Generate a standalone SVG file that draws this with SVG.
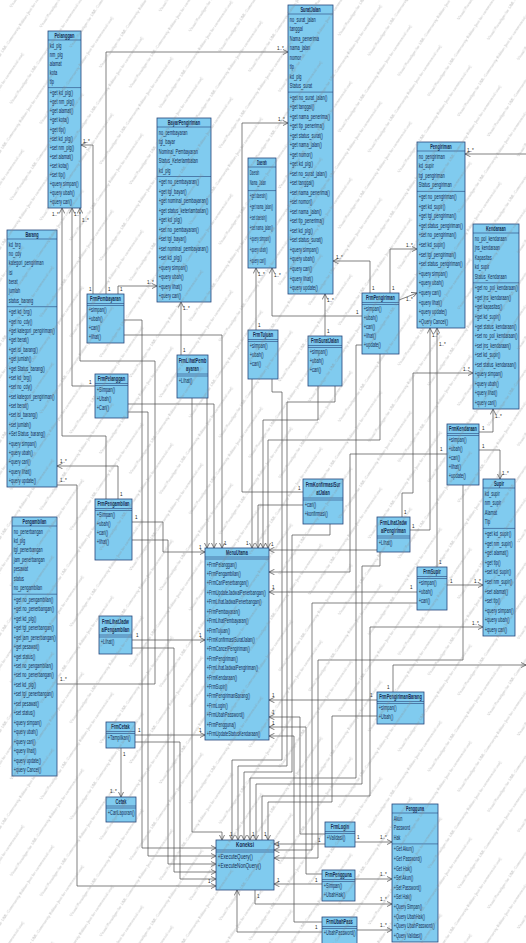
<svg xmlns="http://www.w3.org/2000/svg" width="526" height="943" viewBox="0 0 526 943">
<defs>
<style>
.b{fill:#80cbef;stroke:#27457a;stroke-width:.8}
.s{fill:none;stroke:#27457a;stroke-width:.6}
text{font-family:"Liberation Sans",Arial,sans-serif;font-size:6.4px;fill:#13294f}
.h{font-weight:bold;text-anchor:middle}
.c path{fill:none;stroke:#4a4a4a;stroke-width:.7;marker-end:url(#ar)}
.l text{font-size:4.6px;fill:#222}
.w{font-size:4.2px;fill:#8a8a8a}
</style>
<marker id="ar" viewBox="0 0 10 10" refX="10" refY="5" markerWidth="5.5" markerHeight="5.5" markerUnits="userSpaceOnUse" orient="auto"><path d="M0 0L10 5L0 10" fill="none" stroke="#4a4a4a" stroke-width="1.3"/></marker>
<pattern id="wm" patternUnits="userSpaceOnUse" width="160" height="36" patternTransform="rotate(-56)">
<text class="w" x="0" y="14">Visual Paradigm for UML Community Edition [not for commercial use]</text>
<text class="w" x="-80" y="32">Visual Paradigm for UML Community Edition [not for commercial use]</text>
<text class="w" x="80" y="32">Visual Paradigm for UML Community Edition [not for commercial use]</text>
</pattern>
</defs>
<rect width="526" height="943" fill="#ffffff"/>

<g id="connectors" class="c">
<path d="M106 294V52H288"/>
<path d="M93 294V145H81"/>
<path d="M118 294V286H157"/>
<path d="M181 355V302"/>
<path d="M256 330V268"/>
<path d="M303 492H242V123H288"/>
<path d="M325 336V294"/>
<path d="M370 293V261H333"/>
<path d="M390 293V249H417"/>
<path d="M399 300L417 293"/>
<path d="M362 316H272V268"/>
<path d="M526 154H465"/>
<path d="M402 517V493H413V373H473"/>
<path d="M479 432H493V409"/>
<path d="M479 450H500V479"/>
<path d="M447 585H483"/>
<path d="M262 840V796H370V627H483"/>
<path d="M410 530H430V328"/>
<path d="M437 567V328"/>
<path d="M95 386H72V208"/>
<path d="M106 499V436H62V208"/>
<path d="M57 684H155V361H80V208"/>
<path d="M118 499V466H57"/>
<path d="M121 748V797"/>
<path d="M57 485H77V886H216"/>
<path d="M355 842H392"/>
<path d="M355 879H392"/>
<path d="M357 930H392"/>
<path d="M255 890V904H392"/>
<path d="M393 692V665H526"/>
<path d="M207 398V548"/>
<path d="M128 404H214V548"/>
<path d="M124 335H222V548"/>
<path d="M132 522H163V552H205"/>
<path d="M132 640H205"/>
<path d="M135 735H205"/>
<path d="M252 379V548"/>
<path d="M303 505H258V548"/>
<path d="M318 386V420H263V548"/>
<path d="M380 354V440H268V548"/>
<path d="M377 550H269"/>
<path d="M447 454H350V572H269"/>
<path d="M417 592H269"/>
<path d="M377 700H269"/>
<path d="M325 834H300V717H269"/>
<path d="M322 874H306V727H269"/>
<path d="M322 922H294V736H269"/>
<path d="M124 320H142V848H216"/>
<path d="M128 412H148V856H216"/>
<path d="M132 540H168V864H216"/>
<path d="M132 648H174V872H216"/>
<path d="M135 742H180V879H216"/>
<path d="M192 398V832H222V840"/>
<path d="M272 379V392H282V760H232V840"/>
<path d="M335 386V402H287V766H238V840"/>
<path d="M330 524V535H292V772H244V840"/>
<path d="M362 345H356V778H250V840"/>
<path d="M380 552V566H362V784H256V840"/>
<path d="M377 716H332V802H268V840"/>
<path d="M463 485V660H318V858H274"/>
<path d="M417 603H312V850H274"/>
<path d="M325 844H274"/>
<path d="M322 884H274"/>
<path d="M322 932H237V890"/>
</g>

<g id="labels" class="l">
<text x="277" y="50">1..*</text><text x="108" y="291">1</text>
<text x="83" y="143">1..*</text><text x="89" y="291">1</text>
<text x="147" y="284">1..*</text><text x="120" y="291">1</text>
<text x="183" y="310">1..*</text><text x="183" y="352">1</text>
<text x="258" y="276">1..*</text><text x="258" y="327">1</text>
<text x="278" y="121">1..*</text><text x="298" y="490">1</text>
<text x="327" y="302">1..*</text><text x="327" y="333">1</text>
<text x="336" y="259">1..*</text><text x="372" y="290">1</text>
<text x="406" y="247">1..*</text><text x="392" y="290">1</text>
<text x="406" y="301">1..*</text>
<text x="274" y="277">1..*</text><text x="356" y="314">1</text>
<text x="467" y="152">1..*</text>
<text x="463" y="371">1..*</text><text x="404" y="514">1</text>
<text x="495" y="418">1..*</text><text x="482" y="430">1</text>
<text x="502" y="475">1..*</text><text x="482" y="448">1</text>
<text x="474" y="583">1..*</text><text x="450" y="583">1</text>
<text x="472" y="625">1..*</text><text x="264" y="836">1</text>
<text x="432" y="337">1..*</text><text x="412" y="528">1</text>
<text x="439" y="346">1..*</text><text x="439" y="564">1</text>
<text x="74" y="216">1..*</text><text x="89" y="384">1</text>
<text x="52" y="216">1..*</text>
<text x="82" y="222">1..*</text><text x="60" y="681">1..*</text>
<text x="60" y="463">1..*</text><text x="120" y="496">1</text>
<text x="123" y="756">1</text><text x="110" y="793">1..*</text>
<text x="60" y="482">1..*</text><text x="208" y="883">1</text>
<text x="380" y="839">1..*</text><text x="357" y="839">1</text>
<text x="380" y="876">1..*</text>
<text x="380" y="927">1..*</text>
<text x="380" y="901">1..*</text><text x="257" y="898">1</text>
<text x="387" y="689">1</text>
<text x="224" y="545">1</text><text x="246" y="545">1</text><text x="271" y="546">1</text>
<text x="199" y="549">1</text><text x="199" y="637">1</text><text x="199" y="732">1</text>
<text x="272" y="589">1</text><text x="272" y="697">1</text><text x="272" y="714">1</text><text x="272" y="725">1</text>
<text x="135" y="519">1</text><text x="136" y="637">1</text><text x="138" y="732">1</text>
<text x="440" y="451">1</text><text x="410" y="589">1</text><text x="370" y="697">1</text>
<text x="230" y="836">1</text><text x="252" y="836">1</text>
<text x="277" y="846">1</text><text x="277" y="882">1</text><text x="315" y="882">1</text>
<text x="318" y="842">1</text><text x="315" y="929">1</text>
</g>

<g id="Pelanggan" transform="translate(48,31)"><rect class="b" width="33" height="177"/><path class="s" d="M0 9H33M0 56.6H33"/>
<g transform="scale(.62 1)"><text class="h" x="26.6" y="6.8">Pelanggan</text>
<text x="2.9" y="16.6">kd_plg</text><text x="2.9" y="25.7">nm_plg</text><text x="2.9" y="34.8">alamat</text><text x="2.9" y="43.9">kota</text><text x="2.9" y="53">tlp</text>
<text x="2.9" y="64.2">+get kd_plg()</text><text x="2.9" y="73.3">+get nm_plg()</text><text x="2.9" y="82.4">+get alamat()</text><text x="2.9" y="91.5">+get kota()</text><text x="2.9" y="100.6">+get tlp()</text><text x="2.9" y="109.7">+set kd_plg()</text><text x="2.9" y="118.8">+set nm_plg()</text><text x="2.9" y="127.9">+set alamat()</text><text x="2.9" y="137">+set kota()</text><text x="2.9" y="146.1">+set tlp()</text><text x="2.9" y="155.2">+query simpan()</text><text x="2.9" y="164.3">+query ubah()</text><text x="2.9" y="173.4">+query cari()</text></g></g>

<g id="SuratJalan" transform="translate(288,5)"><rect class="b" width="45" height="289"/><path class="s" d="M0 9H45M0 87.1H45"/>
<g transform="scale(.62 1)"><text class="h" x="36.3" y="6.8">SuratJalan</text>
<text x="2.9" y="16.6">no_surat_jalan</text><text x="2.9" y="26.1">tanggal</text><text x="2.9" y="35.6">Nama_penerima</text><text x="2.9" y="45.2">nama_jalan</text><text x="2.9" y="54.7">nomor</text><text x="2.9" y="64.2">tlp</text><text x="2.9" y="73.7">kd_plg</text><text x="2.9" y="83.2">Status_surat</text>
<text x="2.9" y="94.7">+get no_surat_jalan()</text><text x="2.9" y="104.3">+get tanggal()</text><text x="2.9" y="113.8">+get nama_penerima()</text><text x="2.9" y="123.3">+get tlp_penerima()</text><text x="2.9" y="132.8">+get status_surat()</text><text x="2.9" y="142.3">+get nama_jalan()</text><text x="2.9" y="151.8">+get nomor()</text><text x="2.9" y="161.4">+get kd_plg()</text><text x="2.9" y="170.9">+set no_surat_jalan()</text><text x="2.9" y="180.4">+set tanggal()</text><text x="2.9" y="189.9">+set nama_penerima()</text><text x="2.9" y="199.4">+set nomor()</text><text x="2.9" y="208.9">+set nama_jalan()</text><text x="2.9" y="218.5">+set tlp_penerima()</text><text x="2.9" y="228">+set kd_plg()</text><text x="2.9" y="237.5">+set status_surat()</text><text x="2.9" y="247">+query simpan()</text><text x="2.9" y="256.5">+query ubah()</text><text x="2.9" y="266">+query cari()</text><text x="2.9" y="275.6">+query lihat()</text><text x="2.9" y="285.1">+query update()</text></g></g>

<g id="BayarPengiriman" transform="translate(157,118)"><rect class="b" width="54" height="184"/><path class="s" d="M0 9H54M0 58.5H54"/>
<g transform="scale(.62 1)"><text class="h" x="43.5" y="6.8">BayarPengiriman</text>
<text x="2.9" y="16.6">no_pembayaran</text><text x="2.9" y="26.1">tgl_bayar</text><text x="2.9" y="35.6">Nominal_Pembayaran</text><text x="2.9" y="45.1">Status_Keterlambatan</text><text x="2.9" y="54.6">kd_plg</text>
<text x="2.9" y="66.1">+get no_pembayaran()</text><text x="2.9" y="75.6">+get tgl_bayar()</text><text x="2.9" y="85.1">+get nominal_pembayaran()</text><text x="2.9" y="94.6">+get status_keterlambatan()</text><text x="2.9" y="104.1">+get kd_plg()</text><text x="2.9" y="113.6">+set no_pembayaran()</text><text x="2.9" y="123.1">+set tgl_bayar()</text><text x="2.9" y="132.6">+set nominal_pembayaran()</text><text x="2.9" y="142.1">+set kd_plg()</text><text x="2.9" y="151.6">+query simpan()</text><text x="2.9" y="161.1">+query ubah()</text><text x="2.9" y="170.6">+query lihat()</text><text x="2.9" y="180.1">+query cari()</text></g></g>

<g id="Daerah" transform="translate(248,158)"><rect class="b" width="28" height="110"/><path class="s" d="M0 9H28M0 32.6H28"/>
<g transform="scale(.45 1)"><text class="h" x="31.1" y="6.8">Daerah</text>
<text x="4" y="16.6">Daerah</text><text x="4" y="27.4">Nama_Jalan</text>
<text x="4" y="40.2">+get daerah()</text><text x="4" y="50.9">+get nama_jalan()</text><text x="4" y="61.7">+set daerah()</text><text x="4" y="72.5">+set nama_jalan()</text><text x="4" y="83.3">+query simpan()</text><text x="4" y="94.1">+query ubah()</text><text x="4" y="104.8">+query cari()</text></g></g>

<g id="Pengiriman" transform="translate(417,142)"><rect class="b" width="48" height="186"/><path class="s" d="M0 9H48M0 49.4H48"/>
<g transform="scale(.62 1)"><text class="h" x="38.7" y="6.8">Pengiriman</text>
<text x="2.9" y="16.6">no_pengiriman</text><text x="2.9" y="26.2">kd_supir</text><text x="2.9" y="35.8">tgl_pengiriman</text><text x="2.9" y="45.4">Status_pengiriman</text>
<text x="2.9" y="57">+get no_pengiriman()</text><text x="2.9" y="66.7">+get kd_supir()</text><text x="2.9" y="76.3">+get tgl_pengiriman()</text><text x="2.9" y="85.9">+get status_pengiriman()</text><text x="2.9" y="95.5">+set no_pengiriman()</text><text x="2.9" y="105.1">+set kd_supir()</text><text x="2.9" y="114.7">+set tgl_pengiriman()</text><text x="2.9" y="124.3">+set status_pengiriman()</text><text x="2.9" y="133.9">+query simpan()</text><text x="2.9" y="143.5">+query ubah()</text><text x="2.9" y="153.1">+query cari()</text><text x="2.9" y="162.8">+query lihat()</text><text x="2.9" y="172.4">+query update()</text><text x="2.9" y="182">+Query Cancel()</text></g></g>

<g id="Kendaraan" transform="translate(473,224)"><rect class="b" width="46" height="185"/><path class="s" d="M0 9H46M0 58.8H46"/>
<g transform="scale(.6 1)"><text class="h" x="38.3" y="6.8">Kendaraan</text>
<text x="3" y="16.6">no_pol_kendaraan</text><text x="3" y="26.2">jns_kendaraan</text><text x="3" y="35.7">Kapasitas</text><text x="3" y="45.3">kd_supir</text><text x="3" y="54.8">Status_Kendaraan</text>
<text x="3" y="66.4">+get no_pol_kendaraan()</text><text x="3" y="75.9">+get jns_kendaraan()</text><text x="3" y="85.5">+get kapasitas()</text><text x="3" y="95.1">+get kd_supir()</text><text x="3" y="104.6">+get status_kendaraan()</text><text x="3" y="114.2">+set no_pol_kendaraan()</text><text x="3" y="123.7">+set jns_kendaraan()</text><text x="3" y="133.3">+set kd_supir()</text><text x="3" y="142.8">+set status_kendaraan()</text><text x="3" y="152.4">+query simpan()</text><text x="3" y="162">+query ubah()</text><text x="3" y="171.5">+query lihat()</text><text x="3" y="181.1">+query cari()</text></g></g>

<g id="Barang" transform="translate(7,230)"><rect class="b" width="50" height="257"/><path class="s" d="M0 9H50M0 76.7H50"/>
<g transform="scale(.6 1)"><text class="h" x="41.7" y="6.8">Barang</text>
<text x="3" y="16.6">kd_brg</text><text x="3" y="26">no_cdy</text><text x="3" y="35.4">kategori_pengiriman</text><text x="3" y="44.8">isi</text><text x="3" y="54.1">berat</text><text x="3" y="63.5">jumlah</text><text x="3" y="72.9">status_barang</text>
<text x="3" y="84.3">+get kd_brg()</text><text x="3" y="93.7">+get no_cdy()</text><text x="3" y="103.1">+get kategori_pengiriman()</text><text x="3" y="112.4">+get berat()</text><text x="3" y="121.8">+get isi_barang()</text><text x="3" y="131.2">+get jumlah()</text><text x="3" y="140.6">+get Status_barang()</text><text x="3" y="150">+set kd_brg()</text><text x="3" y="159.4">+set no_cdy()</text><text x="3" y="168.8">+set kategori_pengiriman()</text><text x="3" y="178.1">+set berat()</text><text x="3" y="187.5">+set isi_barang()</text><text x="3" y="196.9">+set jumlah()</text><text x="3" y="206.3">+Set Status_barang()</text><text x="3" y="215.7">+query simpan()</text><text x="3" y="225.1">+query ubah()</text><text x="3" y="234.4">+query cari()</text><text x="3" y="243.8">+query lihat()</text><text x="3" y="253.2">+query update()</text></g></g>

<g id="Pengambilan" transform="translate(12,517)"><rect class="b" width="45" height="259"/><path class="s" d="M0 9H45M0 77.2H45"/>
<g transform="scale(.6 1)"><text class="h" x="37.5" y="6.8">Pengambilan</text>
<text x="3" y="16.6">no_penerbangan</text><text x="3" y="26.1">kd_plg</text><text x="3" y="35.5">tgl_penerbangan</text><text x="3" y="45">jam_penerbangan</text><text x="3" y="54.4">pesawat</text><text x="3" y="63.9">status</text><text x="3" y="73.4">no_pengambilan</text>
<text x="3" y="84.8">+get no_pengambilan()</text><text x="3" y="94.3">+get no_penerbangan()</text><text x="3" y="103.8">+get kd_plg()</text><text x="3" y="113.2">+get tgl_penerbangan()</text><text x="3" y="122.7">+get jam_penerbangan()</text><text x="3" y="132.1">+get pesawat()</text><text x="3" y="141.6">+get status()</text><text x="3" y="151.1">+set no_pengambilan()</text><text x="3" y="160.5">+set no_penerbangan()</text><text x="3" y="170">+set kd_plg()</text><text x="3" y="179.5">+set tgl_penerbangan()</text><text x="3" y="188.9">+set pesawat()</text><text x="3" y="198.4">+set status()</text><text x="3" y="207.8">+query simpan()</text><text x="3" y="217.3">+query ubah()</text><text x="3" y="226.8">+query cari()</text><text x="3" y="236.2">+query lihat()</text><text x="3" y="245.7">+query update()</text><text x="3" y="255.1">+query Cancel()</text></g></g>

<g id="Supir" transform="translate(483,479)"><rect class="b" width="32" height="157"/><path class="s" d="M0 9H32M0 49.4H32"/>
<g transform="scale(.62 1)"><text class="h" x="25.8" y="6.8">Supir</text>
<text x="2.9" y="16.6">kd_supir</text><text x="2.9" y="26.2">nm_supir</text><text x="2.9" y="35.8">Alamat</text><text x="2.9" y="45.4">Tlp</text>
<text x="2.9" y="57">+get kd_supir()</text><text x="2.9" y="66.6">+get nm_supir()</text><text x="2.9" y="76.2">+get alamat()</text><text x="2.9" y="85.8">+get tlp()</text><text x="2.9" y="95.4">+set kd_supir()</text><text x="2.9" y="105">+set nm_supir()</text><text x="2.9" y="114.6">+set alamat()</text><text x="2.9" y="124.2">+set tlp()</text><text x="2.9" y="133.8">+query simpan()</text><text x="2.9" y="143.4">+query ubah()</text><text x="2.9" y="153">+query cari()</text></g></g>

<g id="Pengguna" transform="translate(392,804)"><rect class="b" width="46" height="138"/><path class="s" d="M0 9H46M0 39.9H46"/>
<g transform="scale(.58 1)"><text class="h" x="39.7" y="6.8">Pengguna</text>
<text x="3.1" y="16.6">Akun</text><text x="3.1" y="26.2">Password</text><text x="3.1" y="35.8">Hak</text>
<text x="3.1" y="47.5">+Get Akun()</text><text x="3.1" y="57.1">+Get Password()</text><text x="3.1" y="66.7">+Get Hak()</text><text x="3.1" y="76.3">+Set Akun()</text><text x="3.1" y="85.9">+Set Password()</text><text x="3.1" y="95.5">+Set Hak()</text><text x="3.1" y="105.1">+Query Simpan()</text><text x="3.1" y="114.8">+Query UbahHak()</text><text x="3.1" y="124.4">+Query UbahPassword()</text><text x="3.1" y="134">+Query Validasi()</text></g></g>

<g id="MenuUtama" transform="translate(205,548)"><rect class="b" width="64" height="192"/><path class="s" d="M0 9H64M0 11H64"/>
<g transform="scale(.6 1)"><text class="h" x="53.3" y="6.8">MenuUtama</text>
<text x="3" y="18.6">+FrmPelanggan()</text><text x="3" y="28">+FrmPengambilan()</text><text x="3" y="37.4">+FrmCariPenerbangan()</text><text x="3" y="46.9">+FrmUpdateJadwalPenerbangan()</text><text x="3" y="56.3">+FrmLihatJadwalPenerbangan()</text><text x="3" y="65.7">+FrmPembayaran()</text><text x="3" y="75.1">+FrmLihatPembayaran()</text><text x="3" y="84.6">+FrmTujuan()</text><text x="3" y="94">+FrmKonfirmasiSuratJalan()</text><text x="3" y="103.4">+FrmCancelPengiriman()</text><text x="3" y="112.8">+FrmPengiriman()</text><text x="3" y="122.2">+FrmLihatJadwalPengiriman()</text><text x="3" y="131.7">+FrmKendaraan()</text><text x="3" y="141.1">+FrmSupir()</text><text x="3" y="150.5">+FrmPengirimanBarang()</text><text x="3" y="159.9">+FrmLogin()</text><text x="3" y="169.3">+FrmUbahPassword()</text><text x="3" y="178.8">+FrmPengguna()</text><text x="3" y="188.2">+FrmUpdateStatusKendaraan()</text></g></g>

<g id="Koneksi" transform="translate(216,840)"><rect class="b" width="58" height="50"/><path class="s" d="M0 10H58M0 12H58"/>
<g transform="scale(.72 1)"><text class="h" x="40.3" y="7.5">Koneksi</text>
<text x="2.5" y="19.5">+ExecuteQuery()</text><text x="2.5" y="28.5">+ExecuteNonQuery()</text></g></g>

<g id="Cetak" transform="translate(106,797)"><rect class="b" width="30" height="25"/><path class="s" d="M0 9H30M0 11H30"/>
<g transform="scale(.62 1)"><text class="h" x="24.2" y="6.8">Cetak</text><text x="2.9" y="18.3">+CariLaporan()</text></g></g>

<g id="FrmPembayaran" transform="translate(87,294)"><rect class="b" width="37" height="49"/><path class="s" d="M0 9.5H37M0 11.5H37"/>
<g transform="scale(.62 1)"><text class="h" x="29.8" y="6.8">FrmPembayaran</text><text x="2.9" y="18.5">+simpan()</text><text x="2.9" y="27.3">+ubah()</text><text x="2.9" y="36.1">+cari()</text><text x="2.9" y="44.9">+lihat()</text></g></g>

<g id="FrmPelanggan" transform="translate(95,374)"><rect class="b" width="33" height="44"/><path class="s" d="M0 9.5H33M0 11.5H33"/>
<g transform="scale(.62 1)"><text class="h" x="26.6" y="6.8">FrmPelanggan</text><text x="2.9" y="18.5">+Simpan()</text><text x="2.9" y="27.3">+Ubah()</text><text x="2.9" y="36.1">+Cari()</text></g></g>

<g id="FrmPengambilan" transform="translate(95,499)"><rect class="b" width="37" height="61"/><path class="s" d="M0 9.5H37M0 11.5H37"/>
<g transform="scale(.62 1)"><text class="h" x="29.8" y="6.8">FrmPengambilan</text><text x="2.9" y="18.5">+Simpan()</text><text x="2.9" y="27.3">+ubah()</text><text x="2.9" y="36.1">+cari()</text><text x="2.9" y="44.9">+lihat()</text></g></g>

<g id="FrmLihatJadwalPengambilan" transform="translate(99,616)"><rect class="b" width="33" height="38"/><path class="s" d="M0 19H33M0 21H33"/>
<g transform="scale(.62 1)"><text class="h" x="26.6" y="8">FrmLihatJadw</text><text class="h" x="26.6" y="16.3">alPengambilan</text><text x="2.9" y="28.3">+Lihat()</text></g></g>

<g id="FrmCetak" transform="translate(106,722)"><rect class="b" width="29" height="26"/><path class="s" d="M0 9.5H29M0 11.5H29"/>
<g transform="scale(.62 1)"><text class="h" x="23.4" y="6.8">FrmCetak</text><text x="2.9" y="18.5">+Tampilkan()</text></g></g>

<g id="FrmLihatPembayaran" transform="translate(177,355)"><rect class="b" width="31" height="43"/><path class="s" d="M0 19H31M0 21H31"/>
<g transform="scale(.62 1)"><text class="h" x="25" y="8">FrmLihatPemb</text><text class="h" x="25" y="16.3">ayaran</text><text x="2.9" y="28.3">+Lihat()</text></g></g>

<g id="FrmTujuan" transform="translate(248,330)"><rect class="b" width="30" height="49"/><path class="s" d="M0 9.5H30M0 11.5H30"/>
<g transform="scale(.62 1)"><text class="h" x="24.2" y="6.8">FrmTujuan</text><text x="2.9" y="18.5">+simpan()</text><text x="2.9" y="27.3">+ubah()</text><text x="2.9" y="36.1">+cari()</text></g></g>

<g id="FrmSuratJalan" transform="translate(308,336)"><rect class="b" width="34" height="50"/><path class="s" d="M0 9.5H34M0 11.5H34"/>
<g transform="scale(.62 1)"><text class="h" x="27.4" y="6.8">FrmSuratJalan</text><text x="2.9" y="18.5">+simpan()</text><text x="2.9" y="27.3">+ubah()</text><text x="2.9" y="36.1">+cari()</text></g></g>

<g id="FrmKonfirmasiSuratJalan" transform="translate(303,479)"><rect class="b" width="40" height="45"/><path class="s" d="M0 19H40M0 21H40"/>
<g transform="scale(.62 1)"><text class="h" x="32.3" y="8">FrmKonfirmasiSur</text><text class="h" x="32.3" y="16.3">atJalan</text><text x="2.9" y="28.3">+cari()</text><text x="2.9" y="37.1">+konfirmasi()</text></g></g>

<g id="FrmPengiriman" transform="translate(362,293)"><rect class="b" width="37" height="61"/><path class="s" d="M0 9.5H37M0 11.5H37"/>
<g transform="scale(.62 1)"><text class="h" x="29.8" y="6.8">FrmPengiriman</text><text x="2.9" y="18.5">+simpan()</text><text x="2.9" y="27.3">+ubah()</text><text x="2.9" y="36.1">+cari()</text><text x="2.9" y="44.9">+lihat()</text><text x="2.9" y="53.7">+update()</text></g></g>

<g id="FrmLihatJadwalPengiriman" transform="translate(377,517)"><rect class="b" width="33" height="35"/><path class="s" d="M0 19H33M0 21H33"/>
<g transform="scale(.62 1)"><text class="h" x="26.6" y="8">FrmLihatJadw</text><text class="h" x="26.6" y="16.3">alPengiriman</text><text x="2.9" y="28.3">+Lihat()</text></g></g>

<g id="FrmKendaraan" transform="translate(447,424)"><rect class="b" width="32" height="61"/><path class="s" d="M0 9.5H32M0 11.5H32"/>
<g transform="scale(.62 1)"><text class="h" x="25.8" y="6.8">FrmKendaraan</text><text x="2.9" y="18.5">+simpan()</text><text x="2.9" y="27.3">+ubah()</text><text x="2.9" y="36.1">+cari()</text><text x="2.9" y="44.9">+lihat()</text><text x="2.9" y="53.7">+update()</text></g></g>

<g id="FrmSupir" transform="translate(417,567)"><rect class="b" width="30" height="43"/><path class="s" d="M0 9.5H30M0 11.5H30"/>
<g transform="scale(.62 1)"><text class="h" x="24.2" y="6.8">FrmSupir</text><text x="2.9" y="18.5">+simpan()</text><text x="2.9" y="27.3">+ubah()</text><text x="2.9" y="36.1">+cari()</text></g></g>

<g id="FrmPengirimanBarang" transform="translate(377,692)"><rect class="b" width="47" height="32"/><path class="s" d="M0 9.5H47M0 11.5H47"/>
<g transform="scale(.62 1)"><text class="h" x="37.9" y="6.8">FrmPengirimanBarang</text><text x="2.9" y="18.5">+simpan()</text><text x="2.9" y="27.3">+Ubah()</text></g></g>

<g id="FrmLogin" transform="translate(325,822)"><rect class="b" width="30" height="25"/><path class="s" d="M0 9.5H30M0 11.5H30"/>
<g transform="scale(.62 1)"><text class="h" x="24.2" y="6.8">FrmLogin</text><text x="2.9" y="18.5">+Validasi()</text></g></g>

<g id="FrmPengguna" transform="translate(322,870)"><rect class="b" width="33" height="31"/><path class="s" d="M0 9.5H33M0 11.5H33"/>
<g transform="scale(.62 1)"><text class="h" x="26.6" y="6.8">FrmPengguna</text><text x="2.9" y="18.5">+Simpan()</text><text x="2.9" y="27.3">+UbahHak()</text></g></g>

<g id="FrmUbahPass" transform="translate(322,917)"><rect class="b" width="35" height="27"/><path class="s" d="M0 9.5H35M0 11.5H35"/>
<g transform="scale(.62 1)"><text class="h" x="28.2" y="6.8">FrmUbahPass</text><text x="2.9" y="18.5">+UbahPassword()</text></g></g>

<rect id="watermark" width="526" height="943" fill="url(#wm)" opacity=".55"/>
</svg>
